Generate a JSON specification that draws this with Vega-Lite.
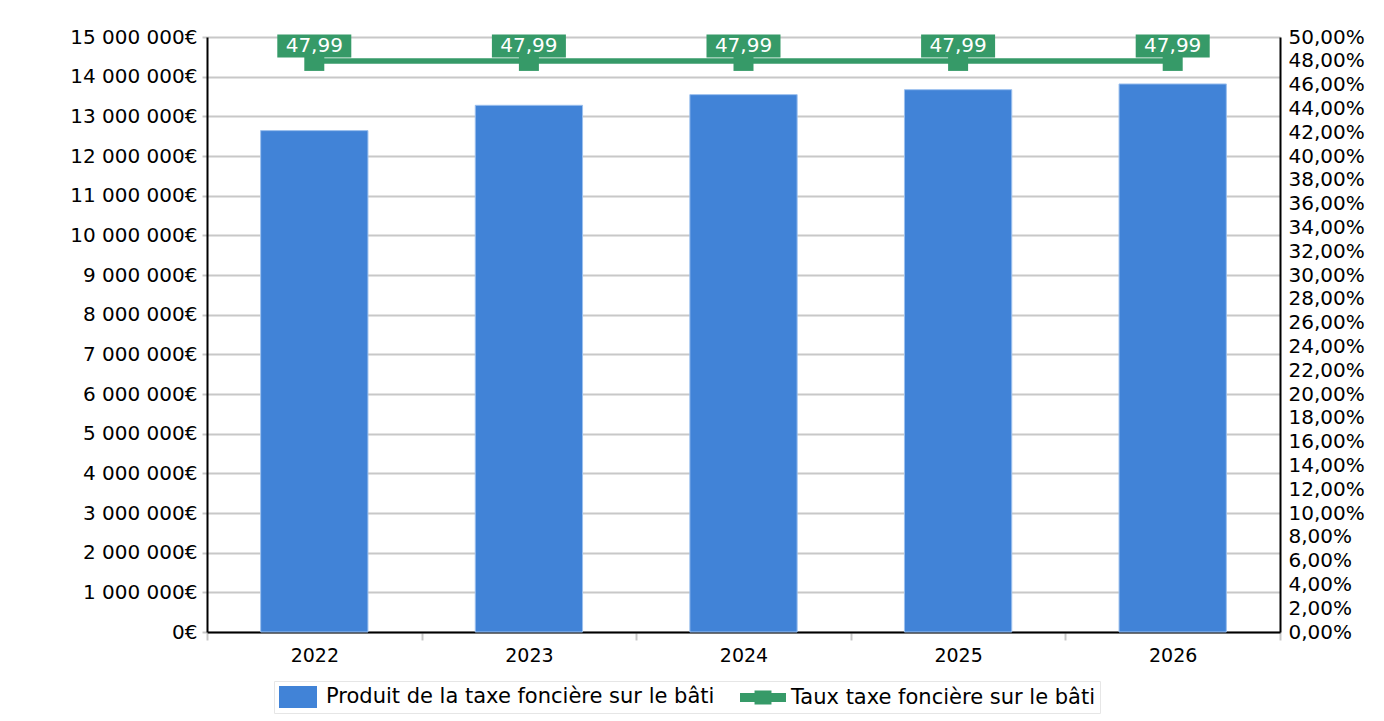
{
  "$schema": "https://vega.github.io/schema/vega-lite/v6.json",
  "width": 1073,
  "height": 595,
  "autosize": {"type": "none"},
  "padding": {"left": 207, "top": 37, "right": 104, "bottom": 89},
  "background": "white",
  "config": {
    "font": "DejaVu Sans",
    "view": {"stroke": null},
    "axis": {"labelOverlap": false},
    "locale": {
      "number": {"decimal": ",", "thousands": " ", "grouping": [3], "currency": ["", "€"]}
    }
  },
  "data": {
    "values": [
      {"annee": "2022", "produit": 12640000, "taux": 47.99},
      {"annee": "2023", "produit": 13278000, "taux": 47.99},
      {"annee": "2024", "produit": 13547000, "taux": 47.99},
      {"annee": "2025", "produit": 13672000, "taux": 47.99},
      {"annee": "2026", "produit": 13816000, "taux": 47.99}
    ]
  },
  "encoding": {
    "x": {
      "field": "annee",
      "type": "ordinal",
      "title": null,
      "scale": {"paddingInner": 0, "paddingOuter": 0},
      "axis": {
        "labelAngle": 0,
        "labelFontSize": 19,
        "labelColor": "#000000",
        "labelPadding": 6,
        "domainColor": "#000000",
        "domainWidth": 2,
        "tickColor": "#c8c8c8",
        "tickWidth": 2,
        "tickSize": 8,
        "tickBand": "extent",
        "grid": false
      }
    }
  },
  "layer": [
    {
      "mark": {"type": "bar", "color": "#4183d7", "stroke": "#9cc0ee", "strokeWidth": 1, "width": {"band": 0.5}},
      "encoding": {
        "y": {
          "field": "produit",
          "type": "quantitative",
          "title": null,
          "scale": {"domain": [0, 15000000], "nice": false},
          "axis": {
            "orient": "left",
            "values": [0, 1000000, 2000000, 3000000, 4000000, 5000000, 6000000, 7000000, 8000000, 9000000, 10000000, 11000000, 12000000, 13000000, 14000000, 15000000],
            "format": "$,.0f",
            "labelFontSize": 20,
            "labelColor": "#000000",
            "labelPadding": 5,
            "labelOverlap": false,
            "domainColor": "#000000",
            "domainWidth": 2,
            "tickColor": "#c8c8c8",
            "tickWidth": 2,
            "tickSize": 5,
            "grid": true,
            "gridColor": "#c8c8c8",
            "gridWidth": 2
          }
        },
        "color": {
          "datum": "Produit de la taxe foncière sur le bâti",
          "type": "nominal",
          "scale": {
            "domain": ["Produit de la taxe foncière sur le bâti", "Taux taxe foncière sur le bâti"],
            "range": ["#4183d7", "#369a68"]
          },
          "legend": {
            "title": null,
            "orient": "none",
            "legendX": 67,
            "legendY": 644,
            "direction": "horizontal",
            "padding": 5,
            "strokeColor": "#e6e6e6",
            "fillColor": "#ffffff",
            "labelFontSize": 21,
            "labelColor": "#000000",
            "labelLimit": 0,
            "labelOffset": 17,
            "symbolSize": 484,
            "symbolOffset": 8,
            "symbolStrokeWidth": 0,
            "symbolOpacity": 1,
            "symbolType": {"expr": "datum.value === 'Produit de la taxe foncière sur le bâti' ? 'M-1.727,-1H1.727V1H-1.727Z' : 'M-2.09,-0.41H-0.77V-0.64H0.77V-0.41H2.09V0.41H0.77V0.64H-0.77V0.41H-2.09Z'"},
            "columnPadding": 25
          }
        }
      }
    },
    {
      "encoding": {
        "y": {
          "field": "taux",
          "type": "quantitative",
          "title": null,
          "scale": {"domain": [0, 50], "nice": false},
          "axis": {
            "orient": "right",
            "values": [0, 2, 4, 6, 8, 10, 12, 14, 16, 18, 20, 22, 24, 26, 28, 30, 32, 34, 36, 38, 40, 42, 44, 46, 48, 50],
            "format": ".2f",
            "labelExpr": "datum.label + '%'",
            "labelFontSize": 20,
            "labelColor": "#000000",
            "labelPadding": 8,
            "labelOverlap": false,
            "labelFlush": false,
            "domainColor": "#000000",
            "domainWidth": 2,
            "ticks": false,
            "grid": false
          }
        }
      },
      "layer": [
        {
          "mark": {"type": "line", "strokeWidth": 5.5},
          "encoding": {
            "color": {"datum": "Taux taxe foncière sur le bâti", "type": "nominal"}
          }
        },
        {
          "mark": {"type": "point", "shape": "square", "size": 400, "filled": true, "opacity": 1, "color": "#369a68"}
        },
        {
          "mark": {
            "type": "point",
            "shape": "M-1,-0.311H1V0.311H-1Z",
            "size": 5476,
            "filled": true,
            "opacity": 1,
            "color": "#369a68",
            "strokeWidth": 0,
            "yOffset": -15
          }
        },
        {
          "mark": {
            "type": "text",
            "color": "#ffffff",
            "fontSize": 20,
            "baseline": "middle",
            "align": "center",
            "yOffset": -15
          },
          "encoding": {
            "text": {"field": "taux", "type": "quantitative", "format": ".2f"}
          }
        }
      ]
    }
  ],
  "resolve": {"scale": {"y": "independent"}}
}
